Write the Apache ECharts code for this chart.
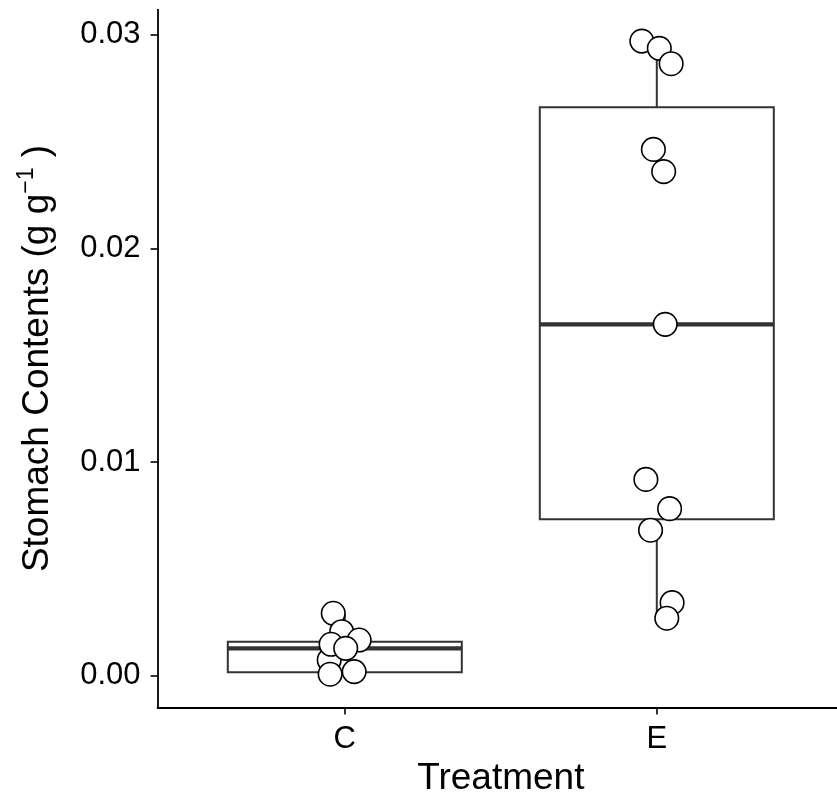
<!DOCTYPE html>
<html>
<head>
<meta charset="utf-8">
<script src="https://cdn.jsdelivr.net/npm/echarts@6/dist/echarts.min.js"></script>
<style>html,body{margin:0;padding:0;background:#fff}#chart{width:837px;height:796px}</style>
</head>
<body>
<div id="chart"></div>
<script>
// ---- data ----
const categories = ['C', 'E'];
const categoryPos = [1, 2];
const yTickValues = [0, 0.01, 0.02, 0.03];

// box statistics per category: [C, E]
const boxMin = [0.00007, 0.00269];
const boxQ1  = [0.00016, 0.00732];
const boxMed = [0.00128, 0.01645];
const boxQ3  = [0.00159, 0.02661];
const boxMax = [0.00292, 0.02971];

// jittered points
const pointsCx = [0.963, 0.990, 1.046, 0.950, 0.956, 1.003, 0.953, 1.030];
const pointsCy = [0.00292, 0.00206, 0.00167, 0.00074, 0.00147, 0.00128, 0.00007, 0.00019];
const pointsEx = [1.952, 2.008, 2.046, 1.989, 2.022, 2.027, 1.965, 2.041, 1.980, 2.049, 2.032];
const pointsEy = [0.02971, 0.02937, 0.02865, 0.02464, 0.02360, 0.01645, 0.00919, 0.00782, 0.00681, 0.00342, 0.00269];

const FONT = '"Liberation Sans", Arial, Helvetica, sans-serif';
const halfW = 0.375;
const boxColor = '#333333';

const chart = echarts.init(document.getElementById('chart'), null, {renderer: 'canvas'});

const boxData = categories.map((c, i) => [categoryPos[i], boxMin[i], boxQ1[i], boxMed[i], boxQ3[i], boxMax[i]]);
const pointData = pointsCx.map((x, i) => [x, pointsCy[i]])
  .concat(pointsEx.map((x, i) => [x, pointsEy[i]]));

chart.setOption({
  animation: false,
  backgroundColor: '#ffffff',
  grid: {left: 157.6, top: 9.6, width: 686.4, height: 697.8, containLabel: false, outerBoundsMode: 'none'},
  xAxis: {
    type: 'value',
    min: 0.4, max: 2.6,
    name: 'Treatment',
    nameLocation: 'middle',
    nameGap: 45,
    nameTextStyle: {fontFamily: FONT, fontSize: 37, color: '#000'},
    splitLine: {show: false},
    axisLine: {show: true, onZero: false, lineStyle: {color: '#000', width: 1.8}},
    axisTick: {show: true, length: 7, lineStyle: {color: '#000', width: 1.6}, customValues: categoryPos},
    axisLabel: {
      show: true, margin: 17, fontFamily: FONT, fontSize: 31, color: '#000',
      customValues: categoryPos,
      formatter: v => categories[categoryPos.indexOf(Math.round(v))] || ''
    }
  },
  yAxis: {
    type: 'value',
    min: -0.001485, max: 0.031185,
    name: 'Stomach Contents (g g{sup|\u22121} )',
    nameLocation: 'middle',
    nameGap: 98,
    nameTextStyle: {
      fontFamily: FONT, fontSize: 37, color: '#000',
      rich: {sup: {fontFamily: FONT, fontSize: 23, color: '#000', verticalAlign: 'top', lineHeight: 44}}
    },
    splitLine: {show: false},
    axisLine: {show: true, onZero: false, lineStyle: {color: '#000', width: 1.8}},
    axisTick: {show: true, length: 7, lineStyle: {color: '#000', width: 1.6}, customValues: yTickValues},
    axisLabel: {
      show: true, margin: 17, fontFamily: FONT, fontSize: 31, color: '#000',
      customValues: yTickValues,
      formatter: v => v.toFixed(2)
    }
  },
  series: [
    {
      type: 'custom',
      silent: true,
      z: 2,
      encode: {x: 0, y: [1, 2, 3, 4, 5]},
      data: boxData,
      renderItem: function (params, api) {
        const x = api.value(0);
        const lo = api.coord([x, api.value(1)]);
        const q1 = api.coord([x, api.value(2)]);
        const med = api.coord([x, api.value(3)]);
        const q3 = api.coord([x, api.value(4)]);
        const hi = api.coord([x, api.value(5)]);
        const l = api.coord([x - halfW, api.value(3)])[0];
        const r = api.coord([x + halfW, api.value(3)])[0];
        const st = {stroke: boxColor, lineWidth: 2};
        return {
          type: 'group',
          children: [
            {type: 'line', shape: {x1: q3[0], y1: q3[1], x2: hi[0], y2: hi[1]}, style: st},
            {type: 'line', shape: {x1: q1[0], y1: q1[1], x2: lo[0], y2: lo[1]}, style: st},
            {type: 'rect', shape: {x: l, y: q3[1], width: r - l, height: q1[1] - q3[1]},
             style: {fill: '#ffffff', stroke: boxColor, lineWidth: 2}},
            {type: 'line', shape: {x1: l, y1: med[1], x2: r, y2: med[1]},
             style: {stroke: boxColor, lineWidth: 4.2}}
          ]
        };
      }
    },
    {
      type: 'scatter',
      silent: true,
      z: 5,
      symbol: 'circle',
      symbolSize: 23.5,
      itemStyle: {color: '#ffffff', borderColor: '#000000', borderWidth: 1.6, opacity: 1},
      data: pointData
    }
  ]
});
</script>
</body>
</html>
